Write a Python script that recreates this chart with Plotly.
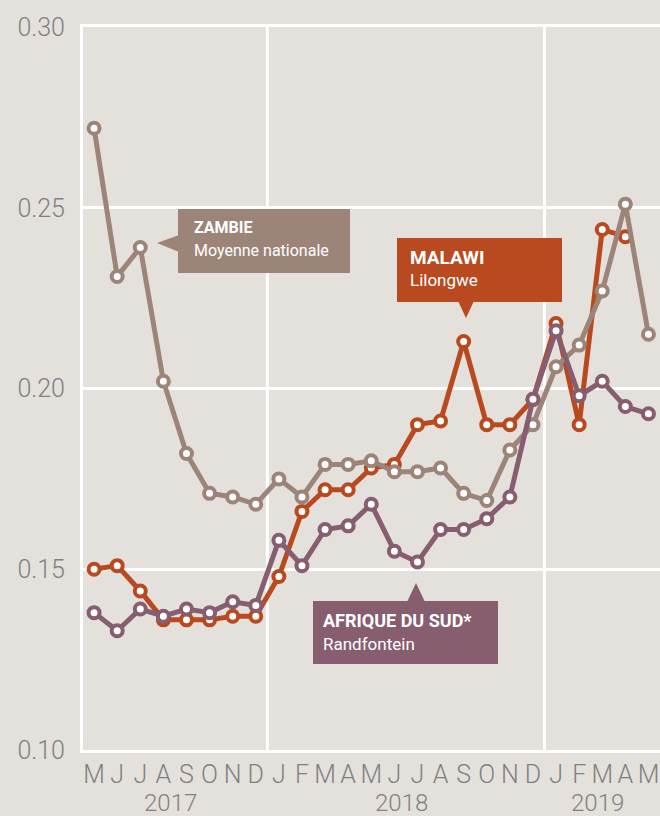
import plotly.graph_objects as go

# ---- data ----
months = ["M", "J", "J", "A", "S", "O", "N", "D",
          "J", "F", "M", "A", "M", "J", "J", "A", "S", "O", "N", "D",
          "J", "F", "M", "A", "M"]
years = [2017] * 8 + [2018] * 12 + [2019] * 5
zambie = [0.272, 0.231, 0.239, 0.202, 0.182, 0.171, 0.170, 0.168, 0.175, 0.170,
          0.179, 0.179, 0.180, 0.177, 0.177, 0.178, 0.171, 0.169, 0.183, 0.190,
          0.206, 0.212, 0.227, 0.251, 0.215]
malawi = [0.150, 0.151, 0.144, 0.136, 0.136, 0.136, 0.137, 0.137, 0.148, 0.166,
          0.172, 0.172, 0.178, 0.179, 0.190, 0.191, 0.213, 0.190, 0.190, 0.197,
          0.218, 0.190, 0.244, 0.242, None]
afrique = [0.138, 0.133, 0.139, 0.137, 0.139, 0.138, 0.141, 0.140, 0.158, 0.151,
           0.161, 0.162, 0.168, 0.155, 0.152, 0.161, 0.161, 0.164, 0.170, 0.197,
           0.216, 0.198, 0.202, 0.195, 0.193]
y_ticks = [0.10, 0.15, 0.20, 0.25, 0.30]
y_ticktext = ["0.10", "0.15", "0.20", "0.25", "0.30"]

# ---- style ----
BG = "#e4e0dc"
TAN = "#9c8578"
ORANGE = "#b94a1f"
PURPLE = "#875d70"
GREY = "#808080"
FONT = "Roboto, Open Sans, sans-serif"

W, H = 660, 816
ML, MR, MT, MB = 83, 0, 27, 66
XR = [-0.48, 24.5]
YR = [0.10, 0.30]
PW, PH = W - ML - MR, H - MT - MB


def dx(px):
    return XR[0] + (px - ML) / PW * (XR[1] - XR[0])


def dy(py):
    return YR[1] - (py - MT) / PH * (YR[1] - YR[0])


x = list(range(len(months)))

fig = go.Figure()
for name, vals, col in [("Malawi", malawi, ORANGE), ("Zambie", zambie, TAN),
                        ("Afrique du Sud", afrique, PURPLE)]:
    fig.add_trace(go.Scatter(
        x=x, y=vals, name=name, mode="lines+markers",
        line=dict(color=col, width=5),
        marker=dict(size=11, color="white", line=dict(color=col, width=4)),
        cliponaxis=False, hoverinfo="skip", connectgaps=False))

shapes = []
# year boundaries
for i in range(1, len(years)):
    if years[i] != years[i - 1]:
        shapes.append(dict(type="line", xref="x", yref="paper", x0=i - 0.5, x1=i - 0.5,
                           y0=0, y1=1, line=dict(color="white", width=3), layer="below"))

annotations = []


def callout(box, tip, base, col, title, sub, title_size, sub_size, tx, ty1, ty2):
    x0, y0, x1, y1 = box
    shapes.append(dict(type="rect", xref="x", yref="y", x0=dx(x0), x1=dx(x1),
                       y0=dy(y0), y1=dy(y1), fillcolor=col, line=dict(width=0), layer="above"))
    path = "M {},{} L {},{} L {},{} Z".format(dx(tip[0]), dy(tip[1]), dx(base[0][0]), dy(base[0][1]),
                                             dx(base[1][0]), dy(base[1][1]))
    shapes.append(dict(type="path", xref="x", yref="y", path=path, fillcolor=col,
                       line=dict(width=0), layer="above"))
    annotations.append(dict(x=dx(tx), y=dy(ty1), xref="x", yref="y", text="<b>" + title + "</b>",
                            showarrow=False, xanchor="left", yanchor="middle",
                            font=dict(family=FONT, size=title_size, color="white")))
    annotations.append(dict(x=dx(tx), y=dy(ty2), xref="x", yref="y", text=sub,
                            showarrow=False, xanchor="left", yanchor="middle",
                            font=dict(family=FONT, size=sub_size, color="white")))


callout((178, 209, 350, 273), (157, 243), ((179, 235), (179, 252)), TAN,
        "ZAMBIE", "Moyenne nationale", 16, 16, 192, 227, 250)
callout((397, 238, 562, 302), (466, 318), ((458, 301), (474, 301)), ORANGE,
        "MALAWI", "Lilongwe", 19, 17, 408, 257, 280)
callout((313, 601, 498, 664), (416, 583), ((407, 602), (425, 602)), PURPLE,
        "AFRIQUE DU SUD*", "Randfontein", 18, 17, 321, 620, 644)

# year labels
for yr in sorted(set(years)):
    idx = [i for i, v in enumerate(years) if v == yr]
    annotations.append(dict(x=sum(idx) / len(idx) - 0.2, y=-0.073, xref="x", yref="paper",
                            text=str(yr), showarrow=False, yanchor="middle",
                            font=dict(family=FONT, size=24, color=GREY, weight=300)))

fig.update_layout(
    width=W, height=H, margin=dict(l=ML, r=MR, t=MT, b=MB),
    paper_bgcolor=BG, plot_bgcolor=BG, showlegend=False,
    shapes=shapes, annotations=annotations,
    xaxis=dict(range=XR, tickmode="array", tickvals=x, ticktext=months,
               showgrid=False, zeroline=False, showline=True, linecolor="white",
               linewidth=3, mirror=True, ticks="", ticklabelstandoff=0, automargin=False,
               tickfont=dict(family=FONT, size=25, color=GREY, weight=300)),
    yaxis=dict(range=YR, tickmode="array", tickvals=y_ticks, ticktext=y_ticktext,
               showgrid=True, gridcolor="white", gridwidth=3, zeroline=False,
               showline=True, linecolor="white", linewidth=3, ticks="", automargin=False,
               ticklabelstandoff=10, tickfont=dict(family=FONT, size=25, color=GREY, weight=300)),
)

fig.write_html("out.html", config={"displayModeBar": False},
               post_script="document.body.style.margin='0';"
                           "document.body.style.background='" + BG + "';")
